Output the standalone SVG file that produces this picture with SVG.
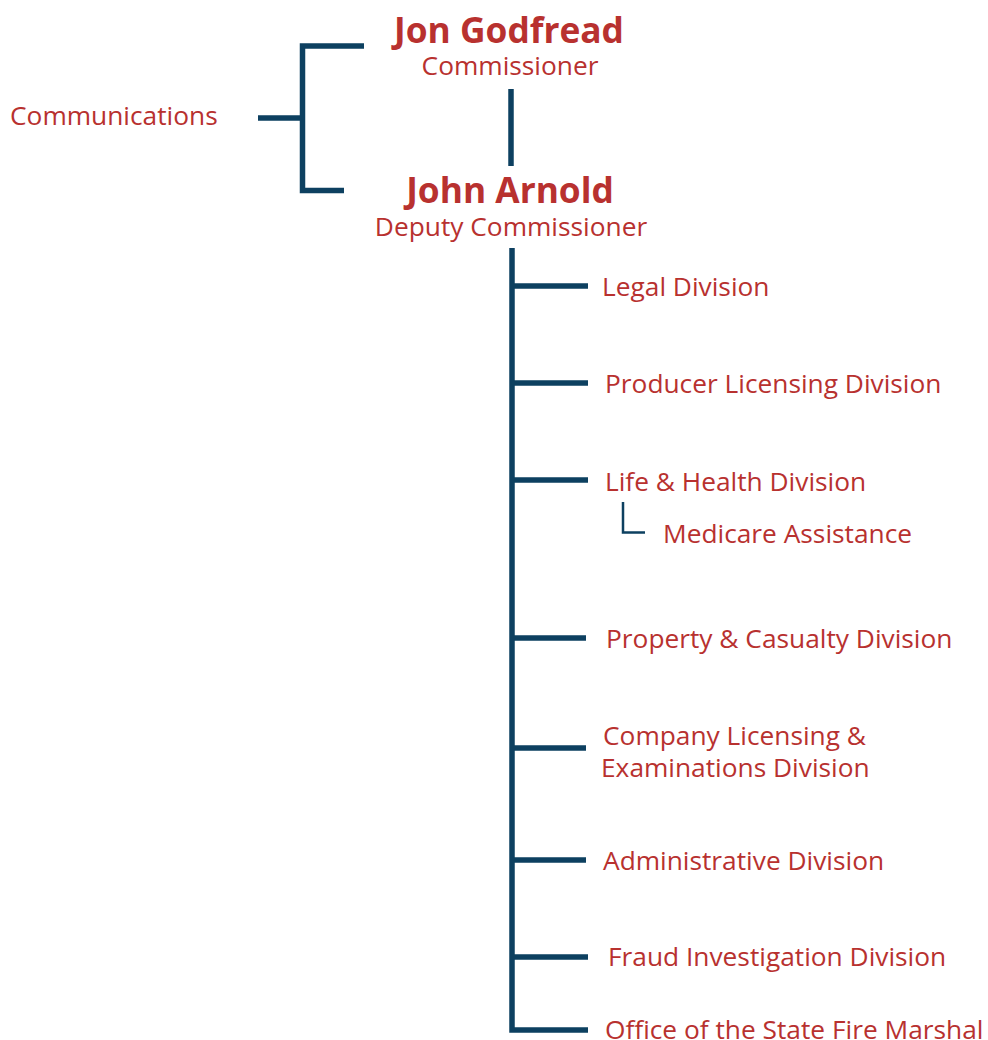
<svg xmlns="http://www.w3.org/2000/svg" width="988" height="1040" viewBox="0 0 988 1040">
<style>
.t{font-family:"Open Sans","Liberation Sans",sans-serif;fill:#b8312f;font-size:26.3px}
.b{font-weight:bold;font-size:35.3px}
.c{text-anchor:middle}
.l{fill:none;stroke:#0d4060;stroke-width:5.5}
.s{fill:none;stroke:#0d4060;stroke-width:2.5}
</style>
<rect width="988" height="1040" fill="#fff"/>
<g id="connectors">
<path class="l" d="M258 118H302.5M364 46H302.5V190.5H344"/>
<path class="l" d="M511 89V166"/>
<path class="l" d="M512 248V1030H588"/>
<path class="l" d="M512 286H588M512 383H588M512 480H588M512 638H586M512 748H586M512 860H586M512 957H588"/>
<path class="s" d="M623 502V532.5H645"/>
</g>
<g id="communications"><text class="t" x="10" y="125">Communications</text></g>
<g id="commissioner"><text class="t b c" x="509" y="43">Jon Godfread</text><text class="t c" x="510" y="75">Commissioner</text></g>
<g id="deputy"><text class="t b c" x="510" y="203">John Arnold</text><text class="t c" x="511" y="236">Deputy Commissioner</text></g>
<g id="legal"><text class="t" x="602" y="296">Legal Division</text></g>
<g id="producer"><text class="t" x="605" y="393">Producer Licensing Division</text></g>
<g id="lifehealth"><text class="t" x="605" y="491">Life &amp; Health Division</text></g>
<g id="medicare"><text class="t" x="663" y="543">Medicare Assistance</text></g>
<g id="property"><text class="t" x="606" y="648">Property &amp; Casualty Division</text></g>
<g id="company"><text class="t" x="603" y="745">Company Licensing &amp;</text><text class="t" x="601" y="777">Examinations Division</text></g>
<g id="admin"><text class="t" x="603" y="870">Administrative Division</text></g>
<g id="fraud"><text class="t" x="608" y="966">Fraud Investigation Division</text></g>
<g id="firemarshal"><text class="t" x="605" y="1039">Office of the State Fire Marshal</text></g>
</svg>
